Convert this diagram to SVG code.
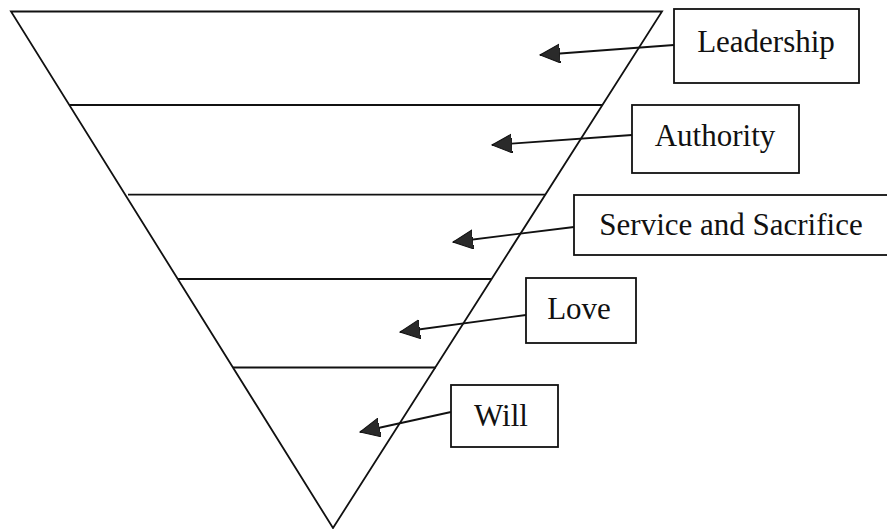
<svg xmlns="http://www.w3.org/2000/svg" width="887" height="529" viewBox="0 0 887 529">
<style>
.ln{stroke:#111;stroke-width:1.8;fill:none}
.box{stroke:#111;stroke-width:1.8;fill:#fff}
.lbl{font-family:"Liberation Serif","Times New Roman",serif;font-size:31px;fill:#111;text-anchor:middle}
.arr{stroke:#111;stroke-width:1.8;fill:none;marker-end:url(#ah)}
</style>
<defs>
<marker id="ah" markerUnits="userSpaceOnUse" markerWidth="22" markerHeight="22" refX="20" refY="9.5" orient="auto">
<path d="M0,0 L20,9.5 L0,19 Z" fill="#2a2a2a" stroke="#111" stroke-width="1"/>
</marker>
</defs>
<g id="pyramid">
<polygon class="ln" points="11,11.5 662,11.5 333,528"/>
<line class="ln" x1="69.5" y1="105" x2="602.5" y2="105"/>
<line class="ln" x1="128" y1="194.7" x2="545" y2="194.7"/>
<line class="ln" x1="178" y1="279" x2="491" y2="279"/>
<line class="ln" x1="233" y1="367.5" x2="436" y2="367.5"/>
</g>
<g id="connectors">
<line class="arr" x1="674" y1="45" x2="540" y2="55"/>
<line class="arr" x1="632" y1="135" x2="492" y2="145"/>
<line class="arr" x1="574" y1="227" x2="453" y2="242"/>
<line class="arr" x1="526" y1="315" x2="400" y2="332"/>
<line class="arr" x1="451" y1="412" x2="360" y2="432"/>
</g>
<g id="leadership">
<rect class="box" x="674" y="9" width="185" height="74"/>
<text class="lbl" x="766" y="52">Leadership</text>
</g>
<g id="authority">
<rect class="box" x="632" y="105" width="167" height="68"/>
<text class="lbl" x="715" y="146">Authority</text>
</g>
<g id="service">
<rect class="box" x="574" y="195" width="320" height="60"/>
<text class="lbl" x="731" y="235">Service and Sacrifice</text>
</g>
<g id="love">
<rect class="box" x="526" y="278" width="110" height="65"/>
<text class="lbl" x="579" y="319">Love</text>
</g>
<g id="will">
<rect class="box" x="451" y="385" width="107" height="62"/>
<text class="lbl" x="501" y="426">Will</text>
</g>
</svg>
